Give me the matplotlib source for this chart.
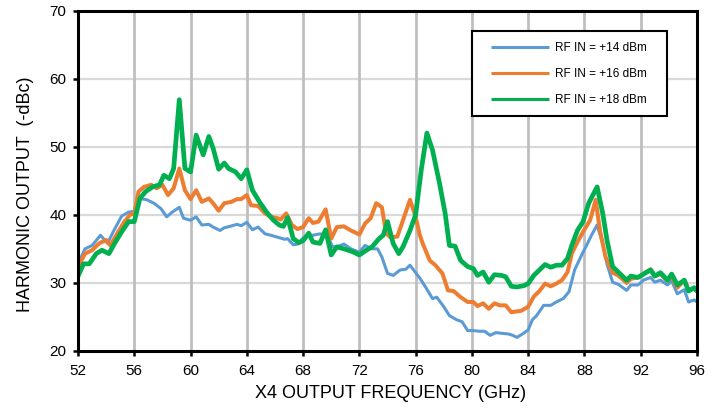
import matplotlib
matplotlib.use("Agg")
import matplotlib.pyplot as plt
from matplotlib.patches import Rectangle

plt.rcParams['font.family'] = ['Liberation Sans', 'DejaVu Sans']

# ---- data ----
freq_14 = [52.0, 52.5, 53.0, 53.6, 54.1, 54.5, 55.1, 55.6, 56.0, 56.4, 56.9, 57.4, 57.9, 58.3, 58.7,
           59.2, 59.5, 60.0, 60.4, 60.8, 61.3, 61.6, 62.1, 62.4, 62.8, 63.3, 63.6, 64.0, 64.4, 64.8,
           65.3, 65.7, 66.2, 66.7, 66.9, 67.3, 67.6, 68.0, 68.4, 68.7, 69.2, 69.7, 70.1, 70.4, 70.9,
           71.4, 72.0, 72.4, 72.9, 73.3, 73.6, 74.0, 74.4, 74.9, 75.3, 75.6, 76.0, 76.3, 76.7, 77.2,
           77.5, 78.0, 78.4, 78.9, 79.3, 79.7, 80.1, 80.5, 80.9, 81.3, 81.7, 82.1, 82.6, 82.9, 83.2,
           83.6, 84.0, 84.3, 84.6, 85.1, 85.6, 86.0, 86.5, 86.9, 87.3, 87.8, 88.1, 88.5, 88.9, 89.3,
           89.6, 90.0, 90.4, 91.0, 91.3, 91.8, 92.2, 92.7, 93.0, 93.4, 93.9, 94.2, 94.6, 95.1, 95.4,
           95.8, 96.0]
rf_14 = [32.8, 35.0, 35.5, 37.0, 35.8, 37.5, 39.8, 40.4, 40.5, 42.4, 42.2, 41.7, 40.9, 39.7, 40.4,
         41.1, 39.5, 39.2, 39.7, 38.5, 38.6, 38.2, 37.7, 38.1, 38.3, 38.6, 38.4, 38.9, 37.8, 38.2,
         37.2, 37.0, 36.7, 36.4, 36.5, 35.6, 35.7, 36.6, 37.0, 37.0, 37.2, 37.0, 35.3, 35.3, 35.7,
         35.0, 34.5, 35.5, 35.0, 35.0, 33.8, 31.4, 31.1, 31.9, 32.0, 32.6, 31.5, 30.7, 29.4, 27.7,
         27.9, 26.5, 25.2, 24.6, 24.3, 23.0, 23.0, 22.9, 22.9, 22.3, 22.7, 22.6, 22.5, 22.3, 22.0,
         22.5, 23.1, 24.6, 25.2, 26.7, 26.7, 27.2, 27.7, 28.7, 31.9, 34.1, 35.3, 37.0, 38.5, 35.8,
         32.8, 30.1, 29.8, 28.9, 29.7, 29.7, 30.4, 30.8, 30.1, 30.4, 29.7, 30.3, 28.4, 29.0, 27.2,
         27.5, 27.2]

freq_16 = [52.0, 52.5, 53.0, 53.5, 54.0, 54.3, 54.8, 55.3, 55.7, 56.0, 56.3, 56.7, 57.2, 57.6, 58.0,
           58.4, 58.8, 59.2, 59.6, 60.0, 60.4, 60.8, 61.3, 61.6, 62.0, 62.4, 62.9, 63.3, 63.6, 64.0,
           64.3, 64.8, 65.3, 65.7, 66.2, 66.4, 66.8, 67.2, 67.6, 68.0, 68.4, 68.7, 69.1, 69.6, 70.0,
           70.4, 70.9, 71.4, 72.0, 72.4, 72.8, 73.2, 73.6, 73.9, 74.2, 74.7, 75.1, 75.6, 76.0, 76.3,
           76.5, 77.0, 77.4, 77.9, 78.3, 78.7, 79.2, 79.7, 80.1, 80.4, 80.8, 81.2, 81.6, 82.0, 82.4,
           82.8, 83.5, 84.0, 84.4, 84.8, 85.2, 85.6, 86.0, 86.4, 86.8, 87.1, 87.5, 87.9, 88.4, 88.8,
           89.1, 89.5, 90.0, 90.4, 91.0, 91.3, 91.8, 92.2, 92.7, 93.0, 93.4, 93.9, 94.2, 94.6, 95.1,
           95.4, 95.8, 96.0]
rf_16 = [32.4, 34.3, 34.8, 35.8, 36.3, 35.5, 37.3, 39.0, 40.0, 40.2, 43.4, 44.1, 44.4, 43.9, 44.4,
         42.9, 43.9, 46.8, 43.6, 42.3, 43.6, 41.9, 42.4, 41.7, 40.6, 41.7, 41.9, 42.3, 42.3, 42.9,
         41.4, 41.3, 40.2, 39.7, 39.5, 39.3, 40.2, 38.5, 37.9, 38.2, 39.5, 38.8, 39.0, 40.8, 36.5,
         38.2, 38.3, 37.7, 37.1, 38.7, 39.5, 41.7, 41.1, 37.3, 36.7, 36.8, 39.2, 42.2, 39.7, 37.0,
         35.8, 33.3, 32.6, 31.4, 28.9, 28.8, 27.9, 27.2, 27.2, 26.6, 27.0, 26.2, 27.0, 26.7, 26.7,
         25.7, 25.9, 26.5, 28.0, 28.8, 29.9, 29.5, 29.9, 30.4, 31.6, 34.3, 36.0, 37.5, 39.2, 42.2,
         37.7, 33.8, 31.5, 31.1, 30.0, 30.6, 30.8, 31.3, 32.0, 31.0, 31.3, 30.3, 31.0, 29.3, 30.4,
         28.9, 29.2, 28.7]

freq_18 = [52.0, 52.4, 52.8, 53.3, 53.7, 54.2, 54.6, 55.1, 55.6, 56.0, 56.4, 56.8, 57.3, 57.8, 58.1,
           58.5, 58.8, 59.2, 59.6, 60.0, 60.4, 60.9, 61.3, 61.6, 62.0, 62.4, 62.7, 63.2, 63.6, 64.0,
           64.4, 64.9, 65.4, 65.9, 66.3, 66.6, 66.9, 67.3, 67.7, 68.0, 68.4, 68.7, 69.2, 69.6, 70.0,
           70.4, 70.9, 71.5, 72.0, 72.5, 72.9, 73.4, 73.7, 74.0, 74.4, 74.8, 75.1, 75.6, 76.0, 76.4,
           76.8, 77.2, 77.7, 78.1, 78.4, 78.8, 79.2, 79.7, 80.1, 80.4, 80.8, 81.2, 81.6, 82.1, 82.4,
           82.8, 83.2, 83.7, 84.0, 84.4, 84.8, 85.2, 85.6, 86.0, 86.4, 86.8, 87.1, 87.5, 87.9, 88.3,
           88.9, 89.3, 89.6, 90.0, 90.4, 91.0, 91.3, 91.8, 92.2, 92.7, 93.0, 93.4, 93.9, 94.2, 94.6,
           95.1, 95.4, 95.8, 96.0]
rf_18 = [31.0, 32.8, 32.8, 34.3, 34.8, 34.3, 35.8, 37.5, 39.0, 39.0, 42.4, 43.4, 44.1, 44.4, 45.8,
         45.3, 46.8, 56.9, 46.8, 46.3, 51.7, 48.8, 51.5, 49.8, 46.7, 47.6, 46.8, 46.3, 45.3, 46.6,
         43.6, 41.9, 40.4, 39.2, 38.5, 38.3, 39.6, 36.5, 35.9, 36.2, 37.3, 36.0, 35.8, 37.8, 34.1,
         35.3, 35.0, 34.6, 34.1, 34.8, 35.3, 36.5, 37.0, 39.0, 35.8, 34.3, 35.3, 37.7, 40.0, 46.6,
         52.0, 49.5, 44.6, 40.2, 35.5, 35.4, 33.3, 32.4, 32.1, 31.1, 31.6, 30.1, 31.2, 31.1, 30.9,
         29.5, 29.4, 29.6, 29.9, 31.1, 31.9, 32.7, 32.3, 32.6, 32.6, 33.6, 35.5, 37.7, 39.0, 41.7,
         44.1, 40.2, 36.3, 32.4, 31.6, 30.4, 31.0, 30.8, 31.3, 31.9, 31.0, 31.5, 30.4, 31.3, 29.7,
         30.4, 28.8, 29.3, 28.8]

series_labels = ["RF IN = +14 dBm", "RF IN = +16 dBm", "RF IN = +18 dBm"]
x_ticks = [52, 56, 60, 64, 68, 72, 76, 80, 84, 88, 92, 96]
y_ticks = [20, 30, 40, 50, 60, 70]

# ---- figure ----
W, H = 721, 408
fig = plt.figure(figsize=(W / 100, H / 100), dpi=100)
ax = fig.add_axes([78 / W, 1 - 351 / H, (697 - 78) / W, (351 - 10.5) / H])

colors = ["#5B9BD5", "#ED7D31", "#00B050"]
widths = [2.2, 2.9, 3.4]
for fx, vals, c, lw, lab, z in zip([freq_14, freq_16, freq_18], [rf_14, rf_16, rf_18],
                                   colors, widths, series_labels, [3, 4, 5]):
    ax.plot(fx, vals, color=c, lw=lw, label=lab, zorder=z, solid_joinstyle='round',
            solid_capstyle='butt')

ax.set_xlim(52, 96)
ax.set_ylim(20, 70)
ax.set_xticks(x_ticks)
ax.set_yticks(y_ticks)

# grid
for xv in x_ticks[1:-1]:
    ax.axvline(xv, color="#bfbfbf", lw=2.0, zorder=1)
for yv in y_ticks[1:-1]:
    ax.axhline(yv, color="#d9d9d9", lw=1.6, zorder=0.9)

for s in ax.spines.values():
    s.set_color("black")
    s.set_linewidth(2.2)
    s.set_zorder(6)

ax.tick_params(axis='both', direction='out', length=3.5, width=1.8, color='black',
               labelsize=11, labelcolor='black')
ax.tick_params(axis='y', pad=5)
ax.tick_params(axis='x', pad=6)

ax.set_xlabel("X4 OUTPUT FREQUENCY (GHz)", fontsize=13, va='center')
ax.xaxis.set_label_coords((391 - 78) / 619, (351 - 394) / 340.5)
ax.set_ylabel("HARMONIC OUTPUT  (-dBc)", fontsize=13, va='center')
ax.yaxis.set_label_coords((25.5 - 78) / 619, (351 - 194) / 340.5)

# legend box
rect = Rectangle((471.7 / W, 1 - 115.7 / H), 195 / W, 84.7 / H, transform=fig.transFigure,
                 facecolor='white', edgecolor='black', lw=1.5, zorder=7)
fig.add_artist(rect)
leg = ax.legend(loc='center', bbox_to_anchor=(569.2 / W, 1 - 74 / H),
                bbox_transform=fig.transFigure, frameon=False, fontsize=8.5,
                handlelength=4.9, handletextpad=0.5, labelspacing=1.2, borderpad=0)
leg.set_zorder(8)
for h in leg.get_lines():
    h.set_linewidth(2.2)
fig.add_artist(leg)

fig.savefig("out.png", dpi=100)
